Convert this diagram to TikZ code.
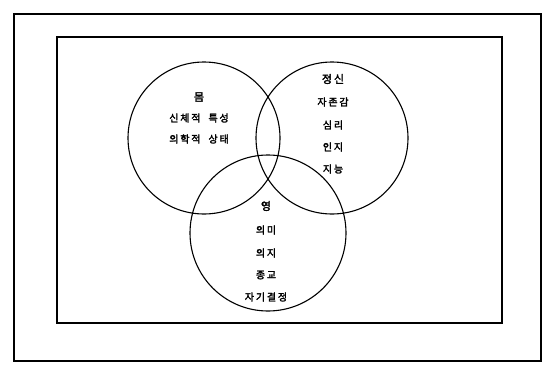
\documentclass[tikz,border=0pt]{standalone}
\usepackage{fontspec}
\newfontfamily\kr[LetterSpace=18,FakeBold=2.6]{Noto Sans CJK KR}
\begin{document}
\begin{tikzpicture}[x=1pt,y=-1pt,
  frame/.style={draw,line width=1.3pt},
  ring/.style={draw,circle,line width=1.1pt,minimum size=152pt,inner sep=0pt},
  lbl/.style={font=\kr\fontsize{10}{12}\selectfont,inner sep=0pt,anchor=center},
  head/.style={lbl,font=\kr\fontsize{11}{13}\selectfont}]
\useasboundingbox (0,0) rectangle (543,364);
\node[frame,minimum width=527pt,minimum height=347pt,inner sep=0pt] (outer) at (277.5,187.5) {};
\node[frame,minimum width=445pt,minimum height=286pt,inner sep=0pt] (inner) at (279.5,180) {};
\node[ring] (mom) at (204,138) {};
\node[ring] (jeong) at (332,138) {};
\node[ring,minimum size=156pt] (yeong) at (268,233) {};
% body
\node[head] (t1) at (199,97) {몸};
\node[lbl] (t2) at (199,118) {신체적\hspace{8pt}특성};
\node[lbl] (t3) at (199,139) {의학적\hspace{8pt}상태};
% mind
\node[head] (m1) at (333,79) {정신};
\node[lbl] (m2) at (333,102) {자존감};
\node[lbl] (m3) at (333,125) {심리};
\node[lbl] (m4) at (333,147) {인지};
\node[lbl] (m5) at (333,169) {지능};
% spirit
\node[head] (s1) at (266,206) {영};
\node[lbl] (s2) at (266,230) {의미};
\node[lbl] (s3) at (266,253) {의지};
\node[lbl] (s4) at (266,275) {종교};
\node[lbl] (s5) at (266,297) {자기결정};
\end{tikzpicture}
\end{document}
